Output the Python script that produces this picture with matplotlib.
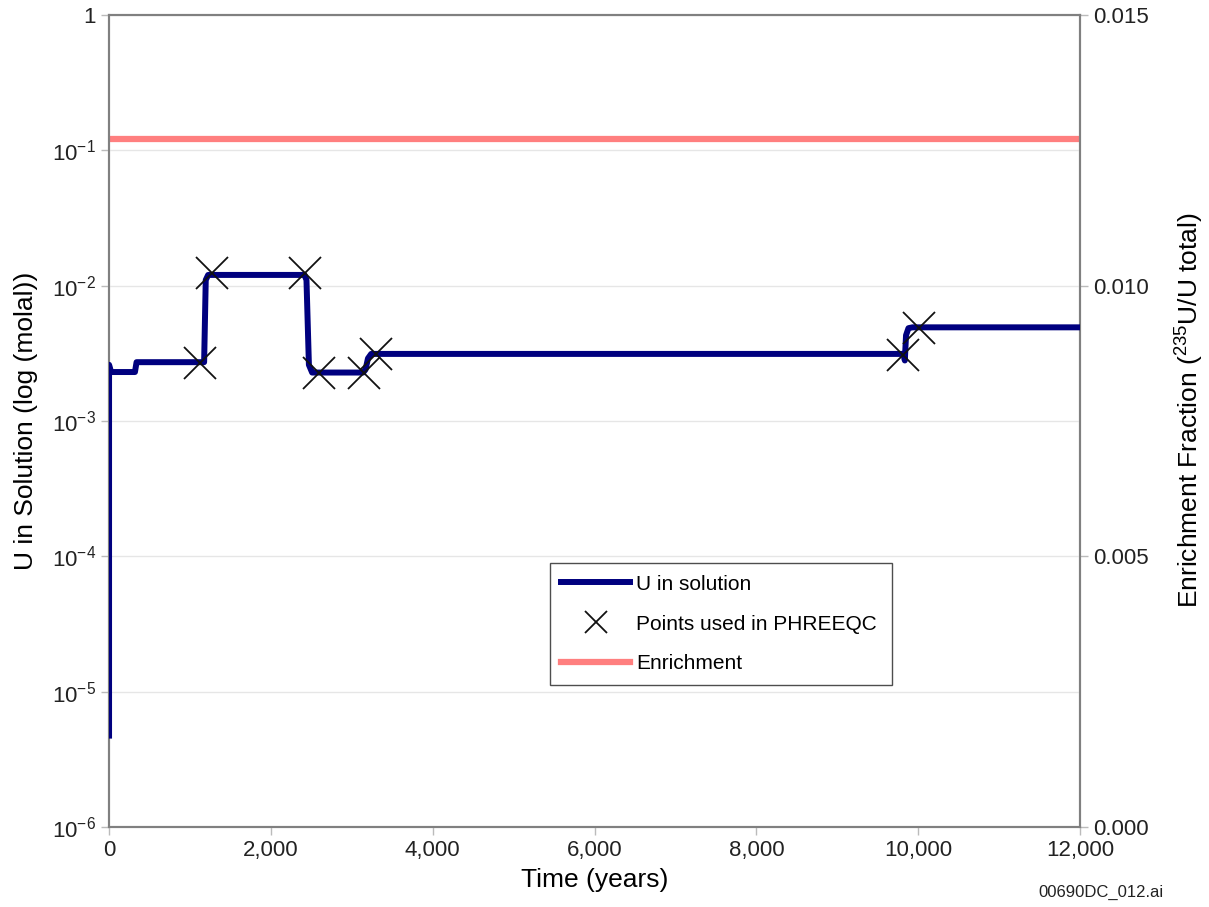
import math
import matplotlib
matplotlib.use("Agg")
import matplotlib.pyplot as plt
from matplotlib.ticker import FuncFormatter, FixedLocator
from matplotlib.lines import Line2D

plt.rcParams['font.family'] = ['Liberation Sans', 'DejaVu Sans']
plt.rcParams['mathtext.fontset'] = 'custom'
plt.rcParams['mathtext.rm'] = 'Liberation Sans'
plt.rcParams['mathtext.it'] = 'Liberation Sans:italic'

# U in solution (molal) versus time (years), stepwise record
u_time = [0, 0, 25, 320, 340, 1175, 1195, 1225, 2415, 2440, 2470, 2510,
          3140, 3170, 3200, 3240, 9820, 9835, 9850, 9880, 9930, 12000]
u_conc = [4.5e-6, 2.6e-3, 2.3e-3, 2.3e-3, 2.72e-3, 2.72e-3, 1.1e-2, 1.2e-2,
          1.2e-2, 1.1e-2, 2.6e-3, 2.28e-3, 2.28e-3, 2.4e-3, 2.9e-3, 3.13e-3,
          3.13e-3, 2.8e-3, 4.3e-3, 4.85e-3, 4.92e-3, 4.92e-3]

# Points passed on to PHREEQC
pts_time = [1130, 1270, 2420, 2590, 3150, 3300, 9810, 10010]
pts_conc = [2.7e-3, 1.23e-2, 1.23e-2, 2.27e-3, 2.27e-3, 3.13e-3, 3.07e-3, 4.9e-3]

# 235U / U total enrichment fraction
enr_time = [0, 12000]
enr_frac = [0.0127, 0.0127]

x_ticks = [0, 2000, 4000, 6000, 8000, 10000, 12000]
y_ticks = [1e-6, 1e-5, 1e-4, 1e-3, 1e-2, 1e-1, 1]
y2_ticks = [0.000, 0.005, 0.010, 0.015]

navy = '#00007f'
pink = '#ff7f7f'
gray = '#808080'

fig = plt.figure(figsize=(12.09, 9.07), dpi=100)
ax = fig.add_axes([0.0902, 0.0882, 0.8031, 0.8953])
ax2 = ax.twinx()

ax.set_yscale('log')
ax.set_ylim(1e-6, 1)
ax.set_xlim(0, 12000)
ax2.set_ylim(0, 0.015)

ax.yaxis.set_major_locator(FixedLocator(y_ticks))
ax.yaxis.set_minor_locator(FixedLocator([]))


def log_label(v, pos):
    if abs(v - 1) < 1e-9:
        return '1'
    e = int(round(math.log10(v)))
    return r'$10^{%d}$' % e


ax.yaxis.set_major_formatter(FuncFormatter(log_label))
ax.xaxis.set_major_locator(FixedLocator(x_ticks))
ax.xaxis.set_major_formatter(FuncFormatter(lambda v, p: f'{int(v):,}'))
ax2.yaxis.set_major_locator(FixedLocator(y2_ticks))
ax2.yaxis.set_major_formatter(FuncFormatter(lambda v, p: f'{v:.3f}'))

ax.grid(axis='y', which='major', color='#e6e6e6', linewidth=1.0)
ax.set_axisbelow(True)

for a in (ax, ax2):
    for s in a.spines.values():
        s.set_color(gray)
        s.set_linewidth(1.5)
    a.tick_params(colors='#222222', labelsize=16, length=6, width=1.0,
                  direction='out')
    a.tick_params(axis='both', color='#bbbbbb')

ax2.plot(enr_time, enr_frac, color=pink, linewidth=4.5, solid_capstyle='butt',
         zorder=2)
ax.set_zorder(ax2.get_zorder() + 1)
ax.patch.set_visible(False)

ax.plot(u_time, u_conc, color=navy, linewidth=4.3, solid_joinstyle='round',
        solid_capstyle='butt', zorder=3)
ax.plot(pts_time, pts_conc, linestyle='none', marker='x', markersize=23,
        markeredgewidth=1.3, color='#111111', zorder=4)

ax.set_xlabel('Time (years)', fontsize=19, labelpad=5)
ax.set_ylabel('U in Solution (log (molal))', fontsize=19, labelpad=10)
ax2.set_ylabel('Enrichment Fraction ($^{235}$U/U total)', fontsize=19)
ax2.yaxis.set_label_coords(1.097, 0.513)

handles = [
    Line2D([], [], color=navy, linewidth=4.3),
    Line2D([], [], linestyle='none', marker='x', markersize=16,
           markeredgewidth=1.3, color='#111111'),
    Line2D([], [], color=pink, linewidth=4.5),
]
labels = ['U in solution', 'Points used in PHREEQC', 'Enrichment']
leg = ax.legend(handles, labels, loc='lower left',
                bbox_to_anchor=(0.454, 0.175, 0.352, 0.153), mode='expand',
                fontsize=15, frameon=True, fancybox=False, borderaxespad=0,
                handlelength=3.3, handletextpad=0.3, labelspacing=1.0,
                borderpad=0.55)
leg.get_frame().set_edgecolor('#222222')
leg.get_frame().set_linewidth(1.0)

fig.text(0.911, 0.016, '00690DC_012.ai', fontsize=12, color='#222222',
         ha='center', va='center')

fig.savefig('out.png', dpi=100)
